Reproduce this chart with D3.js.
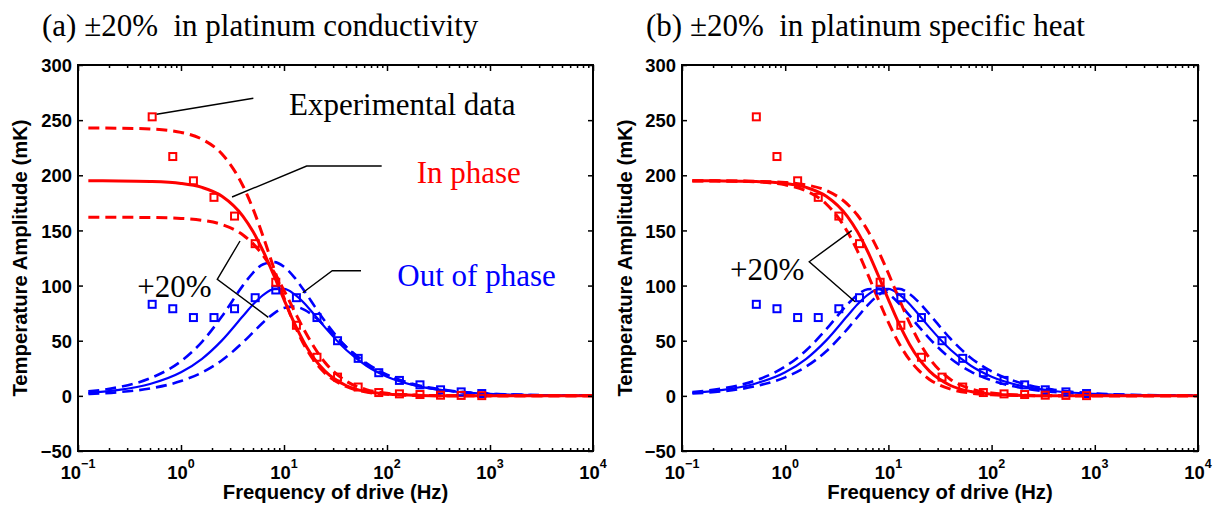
<!DOCTYPE html>
<html><head><meta charset="utf-8">
<script src="https://cdn.jsdelivr.net/npm/d3@7"></script>
<style>body{margin:0;background:#fff} svg{display:block}</style>
</head><body><svg id="c" width="1222" height="510"></svg>
<script>
// ---------- data ----------
const freqHz = [0.126, 0.25, 0.5, 1, 1.6, 2.5, 4, 5, 6.3, 8, 10, 12.6, 16, 20, 25, 40, 63, 100, 200, 400, 1000, 3160, 10000];

const inPhaseNominal  = [195.0, 194.9, 194.4, 192.6, 189.0, 181.0, 162.8, 149.0, 130.9, 108.9, 87.3, 65.9, 46.9, 32.8, 22.4, 9.4, 3.9, 1.6, 0.4, 0.1, 0, 0, 0];
const outPhaseNominal = [2.7, 5.4, 10.8, 21.4, 33.6, 50.3, 72.4, 82.8, 91.6, 96.8, 97.0, 92.2, 83.3, 72.9, 62.1, 41.8, 27.3, 17.4, 8.8, 4.4, 1.8, 0.6, 0.2];

// (a) conductivity -20% / +20%
const inPhaseCondMinus  = [242.9, 242.7, 242.0, 238.9, 232.7, 219.3, 190.3, 169.6, 144.0, 115.3, 89.0, 64.8, 44.7, 30.7, 20.6, 8.5, 3.5, 1.4, 0.4, 0.1, 0, 0, 0];
const outPhaseCondMinus = [4.0, 8.0, 15.9, 31.4, 49.0, 72.1, 100.2, 111.6, 119.4, 121.3, 117.1, 107.5, 94.2, 80.7, 67.6, 44.6, 28.9, 18.4, 9.2, 4.6, 1.9, 0.6, 0.2];
const inPhaseCondPlus   = [162.0, 161.9, 161.7, 160.9, 159.2, 155.3, 145.8, 138.0, 127.0, 112.2, 95.6, 77.0, 58.3, 42.9, 30.3, 13.4, 5.7, 2.3, 0.6, 0.1, 0, 0, 0];
const outPhaseCondPlus  = [1.7, 3.4, 6.7, 13.4, 21.2, 32.3, 48.6, 57.5, 66.7, 74.8, 79.7, 80.9, 77.8, 71.5, 63.2, 44.6, 29.8, 19.2, 9.7, 4.9, 1.9, 0.6, 0.2];

// (b) specific heat -20% / +20%
const inPhaseHeatMinus  = [195.0, 194.9, 194.6, 193.5, 191.3, 186.2, 173.9, 164.0, 150.0, 131.4, 111.0, 88.6, 66.4, 48.5, 34.1, 14.9, 6.3, 2.6, 0.6, 0.2, 0, 0, 0];
const outPhaseHeatMinus = [2.1, 4.2, 8.5, 16.8, 26.6, 40.5, 60.5, 71.3, 82.2, 91.4, 96.6, 97.1, 92.4, 84.3, 74.0, 51.8, 34.4, 22.1, 11.2, 5.6, 2.2, 0.7, 0.2];
const inPhaseHeatPlus   = [194.9, 194.8, 194.1, 191.3, 185.8, 174.0, 149.0, 131.6, 110.4, 87.3, 66.6, 48.0, 32.8, 22.4, 14.9, 6.1, 2.5, 1.0, 0.3, 0.1, 0, 0, 0];
const outPhaseHeatPlus  = [3.4, 6.8, 13.5, 26.6, 41.3, 60.4, 82.8, 91.4, 96.6, 97.0, 92.5, 84.0, 72.9, 62.1, 51.9, 34.0, 22.0, 14.0, 7.0, 3.5, 1.4, 0.4, 0.1];

// experimental data
const expFreqHz   = [0.525, 0.832, 1.32, 2.09, 3.31, 5.25, 8.32, 13.2, 20.9, 33.1, 52.5, 83.2, 132, 209, 331, 525, 832];
const expInPhase  = [253, 217, 195, 180, 163, 138, 103, 64, 35, 17, 8, 3, 1.8, 1.2, 0.6, 0.4, 0.2];
const expOutPhase = [83, 79, 71, 71, 79, 89, 96, 89, 71, 50, 34, 21, 14, 10, 5.5, 3.6, 2.1];

const yTicks = [-50, 0, 50, 100, 150, 200, 250, 300];
const xTickExp = [-1, 0, 1, 2, 3, 4];
const titles = ["(a) \u00b120%\u00a0 in platinum conductivity", "(b) \u00b120%\u00a0 in platinum specific heat"];
const xLabel = "Frequency of drive (Hz)";
const yLabel = "Temperature Amplitude (mK)";

// ---------- drawing ----------
const RED = "#ff0000", BLUE = "#0000ff";
const svg = d3.select("#c");
const TOP = 65, BOTTOM = 451;
const SANS = "'Liberation Sans', Arial, Helvetica, sans-serif";
const SERIF = "'Liberation Serif', 'Times New Roman', serif";

const panels = [
  {left: 78, right: 593, title: titles[0], titleX: 42, yLabX: 20,
   red: [inPhaseCondMinus, inPhaseCondPlus], blue: [outPhaseCondMinus, outPhaseCondPlus]},
  {left: 682, right: 1198, title: titles[1], titleX: 646, yLabX: 625,
   red: [inPhaseHeatMinus, inPhaseHeatPlus], blue: [outPhaseHeatMinus, outPhaseHeatPlus]}
];

panels.forEach((p, pi) => {
  const x = d3.scaleLog().domain([0.1, 1e4]).range([p.left, p.right]);
  const y = d3.scaleLinear().domain([-50, 300]).range([BOTTOM, TOP]);
  const g = svg.append("g");

  const line = d3.line().x(d => x(d[0])).y(d => y(d[1])).curve(d3.curveMonotoneX);
  const drawCurve = (vals, color, w, dash) => {
    g.append("path").datum(d3.zip(freqHz, vals))
      .attr("d", line).attr("fill", "none").attr("stroke", color)
      .attr("stroke-width", w).attr("stroke-dasharray", dash || null)
      .attr("stroke-linejoin", "round");
  };
  // blue first, red over it
  drawCurve(outPhaseNominal, BLUE, 2.2);
  p.blue.forEach(v => drawCurve(v, BLUE, 2.6, "11,6"));
  drawCurve(inPhaseNominal, RED, 3);
  p.red.forEach(v => drawCurve(v, RED, 3, "11,6"));

  // experimental squares
  const sq = 7;
  const drawSquares = (vals, color) => {
    g.selectAll(null).data(d3.zip(expFreqHz, vals)).enter().append("rect")
      .attr("x", d => x(d[0]) - sq / 2).attr("y", d => y(d[1]) - sq / 2)
      .attr("width", sq).attr("height", sq)
      .attr("fill", "none").attr("stroke", color).attr("stroke-width", 2);
  };
  drawSquares(expOutPhase, BLUE);
  drawSquares(expInPhase, RED);

  // axes (inward ticks on all sides)
  const majors = xTickExp.map(e => Math.pow(10, e));
  const minors = [];
  for (let e = -1; e < 4; e++) for (let k = 2; k <= 9; k++) minors.push(k * Math.pow(10, e));

  const axStyle = sel => {
    sel.select(".domain").remove();
    sel.selectAll("line").attr("stroke", "#000").attr("stroke-width", 1.5);
  };
  g.append("g").attr("transform", `translate(0,${BOTTOM})`)
    .call(d3.axisBottom(x).tickValues(majors).tickSize(-6).tickFormat(() => "")).call(axStyle);
  g.append("g").attr("transform", `translate(0,${BOTTOM})`)
    .call(d3.axisBottom(x).tickValues(minors).tickSize(-3).tickFormat(() => "")).call(axStyle);
  g.append("g").attr("transform", `translate(0,${TOP})`)
    .call(d3.axisTop(x).tickValues(majors).tickSize(-6).tickFormat(() => "")).call(axStyle);
  g.append("g").attr("transform", `translate(0,${TOP})`)
    .call(d3.axisTop(x).tickValues(minors).tickSize(-3).tickFormat(() => "")).call(axStyle);
  const yl = g.append("g").attr("transform", `translate(${p.left},0)`)
    .call(d3.axisLeft(y).tickValues(yTicks).tickSize(-5).tickPadding(6)
      .tickFormat(d => d < 0 ? "\u2212" + Math.abs(d) : String(d)));
  yl.call(axStyle);
  yl.selectAll("text").attr("font-family", SANS).attr("font-weight", "bold")
    .attr("font-size", 18.4).attr("fill", "#000").attr("dy", "0.36em");
  g.append("g").attr("transform", `translate(${p.right},0)`)
    .call(d3.axisRight(y).tickValues(yTicks).tickSize(-5).tickFormat(() => "")).call(axStyle);

  // box
  g.append("rect").attr("x", p.left).attr("y", TOP)
    .attr("width", p.right - p.left).attr("height", BOTTOM - TOP)
    .attr("fill", "none").attr("stroke", "#000").attr("stroke-width", 2);

  // x tick labels 10^n
  const xt = g.selectAll(null).data(xTickExp).enter().append("text")
    .attr("x", d => x(Math.pow(10, d))).attr("y", BOTTOM + 28)
    .attr("text-anchor", "middle").attr("font-family", SANS).attr("font-weight", "bold")
    .attr("font-size", 18.4).attr("fill", "#000");
  xt.append("tspan").text("10");
  xt.append("tspan").attr("dy", -11).attr("font-size", 12.5)
    .text(d => d < 0 ? "\u2212" + Math.abs(d) : String(d));

  // axis titles
  g.append("text").attr("x", (p.left + p.right) / 2).attr("y", 499)
    .attr("text-anchor", "middle").attr("font-family", SANS).attr("font-weight", "bold")
    .attr("font-size", 20.3).text(xLabel);
  g.append("text").attr("transform", `translate(${p.yLabX + 7},${(TOP + BOTTOM) / 2}) rotate(-90)`)
    .attr("text-anchor", "middle").attr("font-family", SANS).attr("font-weight", "bold")
    .attr("font-size", 20.3).text(yLabel);

  // panel title
  g.append("text").attr("x", p.titleX).attr("y", 36)
    .attr("font-family", SERIF).attr("font-size", 31).attr("fill", "#000").text(p.title);

  // annotations
  const leader = pts => g.append("path").datum(pts)
    .attr("d", d3.line().x(d => x(d[0])).y(d => y(d[1])))
    .attr("fill", "none").attr("stroke", "#000").attr("stroke-width", 1.4);
  const label = (f, v, txt, color) => g.append("text").attr("x", x(f)).attr("y", y(v))
    .attr("font-family", SERIF).attr("font-size", 31).attr("fill", color).text(txt);

  if (pi === 0) {
    leader([[0.58, 255.3], [5.04, 269.8]]);
    leader([[3.13, 180.3], [16.6, 208.4], [88.8, 208.4]]);
    leader([[15.2, 93.5], [29.4, 113.5], [55.9, 113.5]]);
    leader([[3.74, 140.4], [2.25, 105.7], [7.04, 71.2]]);
    label(11.2, 254.6, "Experimental data", "#000");
    label(194, 193.3, "In phase", RED);
    label(126, 99.6, "Out of phase", BLUE);
    label(0.376, 89.4, "+20%", "#000");
  } else {
    leader([[4.41, 149.8], [1.71, 121.6], [4.75, 85.4]]);
    label(0.292, 105.1, "+20%", "#000");
  }
});
</script></body></html>
